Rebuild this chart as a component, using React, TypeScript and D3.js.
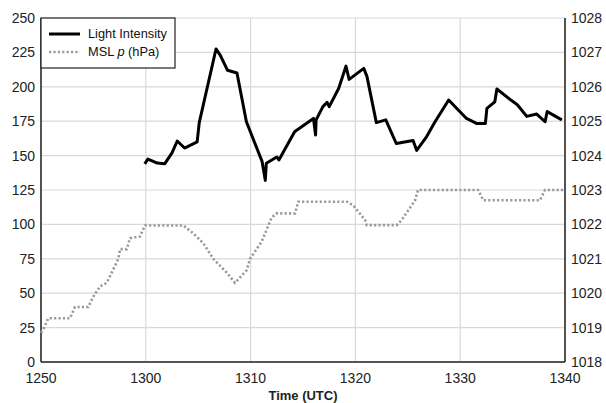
import React from 'react';
import * as d3 from 'd3';

// minutes after 12:50 UTC
const lightTime = [9.9, 10.2, 11.1, 11.8, 12.5, 13.0, 13.7, 14.9, 15.1, 16.7, 17.1, 17.8, 18.7, 19.6, 21.1, 21.4, 21.5, 22.5, 22.7, 24.2, 24.7, 26.0, 26.2, 26.25, 26.9, 27.3, 27.5, 28.4, 29.1, 29.4, 30.8, 31.1, 32.0, 32.9, 33.9, 35.5, 35.85, 36.8, 37.6, 38.9, 40.6, 41.6, 42.4, 42.55, 43.3, 43.5, 44.9, 45.45, 46.35, 47.3, 48.1, 48.3, 49.7];
const lightValue = [144, 147.5, 144.6, 144, 152, 160.6, 155.5, 160, 174, 227.5, 223, 212, 210, 174.6, 145.6, 132, 144.4, 149, 146.8, 167.4, 170, 177, 165, 176, 185.6, 188.7, 185.6, 198.8, 215, 205.4, 213.4, 207.6, 174, 176, 158.8, 161, 153.8, 163.8, 174.6, 190.4, 177, 173.3, 173.3, 184.3, 189, 198.4, 190, 187, 178.5, 180.2, 174.6, 182, 176];

const pressTime = [0, 0.22, 0.7, 2.77, 3.24, 4.51, 4.99, 5.63, 6.27, 6.75, 7.38, 7.54, 8.18, 8.49, 9.45, 9.92, 13.58, 14.53, 15.49, 16.44, 17.72, 18.51, 19.63, 19.94, 21.06, 22.01, 22.49, 24.24, 24.55, 29.17, 29.8, 30.92, 31.08, 33.94, 34.42, 35.69, 35.97, 41.7, 42.21, 47.61, 48.09, 50];
const pressValue = [1018.85, 1018.95, 1019.27, 1019.27, 1019.6, 1019.6, 1019.9, 1020.2, 1020.3, 1020.6, 1021.0, 1021.28, 1021.28, 1021.6, 1021.65, 1021.97, 1021.97, 1021.74, 1021.45, 1021.0, 1020.6, 1020.3, 1020.67, 1021.0, 1021.5, 1022.2, 1022.32, 1022.32, 1022.66, 1022.66, 1022.55, 1022.13, 1021.98, 1021.98, 1022.13, 1022.7, 1023.0, 1023.0, 1022.7, 1022.7, 1023.0, 1023.0];

const xTickLabels = ['1250', '1300', '1310', '1320', '1330', '1340'];
const leftTicks = d3.range(0, 251, 25);
const rightTicks = d3.range(1018, 1029, 1);

const App = () => {
    const width = 606;
    const height = 403;
    const margin = { top: 18, right: 41, bottom: 41, left: 41 };
    const font = 'Liberation Sans, Arial, sans-serif';

    const x = d3.scaleLinear().domain([0, 50]).range([margin.left, width - margin.right]);
    const yL = d3.scaleLinear().domain([0, 250]).range([height - margin.bottom, margin.top]);
    const yR = d3.scaleLinear().domain([1018, 1028]).range([height - margin.bottom, margin.top]);

    const lightLine = d3.line<number>().x((d, i) => x(lightTime[i])).y(d => yL(d));
    const pressLine = d3.line<number>().x((d, i) => x(pressTime[i])).y(d => yR(d));

    const x0 = x(0), x1 = x(50), yb = yL(0), yt = yL(250);

    return (
        <svg width={width} height={height} style={{ position: 'absolute', left: 0, top: 0 }}>
            <rect width={width} height={height} fill="white" />
            {leftTicks.map(t => (
                <line key={'h' + t} x1={x0} x2={x1} y1={yL(t)} y2={yL(t)} stroke="#d9d9d9" strokeWidth={1.2} />
            ))}
            {xTickLabels.map((l, i) => (
                <line key={'v' + l} x1={x(i * 10)} x2={x(i * 10)} y1={yt} y2={yb} stroke="#d9d9d9" strokeWidth={1.2} />
            ))}
            <line x1={x0} x2={x0} y1={yt} y2={yb} stroke="#222" strokeWidth={1.5} />
            <line x1={x1} x2={x1} y1={yt} y2={yb} stroke="#222" strokeWidth={1.5} />
            <line x1={x0} x2={x1} y1={yb} y2={yb} stroke="#222" strokeWidth={1.5} />

            <path d={pressLine(pressValue) || ''} fill="none" stroke="#9a9a9a" strokeWidth={2.6} strokeDasharray="2.2,2.2" />
            <path d={lightLine(lightValue) || ''} fill="none" stroke="#000" strokeWidth={3} strokeLinejoin="round" />

            {leftTicks.map(t => (
                <text key={'l' + t} x={x0 - 6} y={yL(t)} dy="0.35em" textAnchor="end" fontFamily={font} fontSize={14} fill="#222">{t}</text>
            ))}
            {rightTicks.map(t => (
                <text key={'r' + t} x={x1 + 6} y={yR(t)} dy="0.35em" textAnchor="start" fontFamily={font} fontSize={14} fill="#222">{t}</text>
            ))}
            {xTickLabels.map((l, i) => (
                <text key={'x' + l} x={x(i * 10)} y={yb + 21} textAnchor="middle" fontFamily={font} fontSize={14} fill="#222">{l}</text>
            ))}
            <text x={(x0 + x1) / 2} y={yb + 38} textAnchor="middle" fontFamily={font} fontSize={13} fontWeight="bold" fill="#222">Time (UTC)</text>

            <g>
                <rect x={x0} y={yt} width={134} height={50} fill="white" stroke="#222" strokeWidth={1.2} />
                <line x1={x0 + 8} x2={x0 + 39} y1={yt + 16} y2={yt + 16} stroke="#000" strokeWidth={3} />
                <line x1={x0 + 8} x2={x0 + 39} y1={yt + 34} y2={yt + 34} stroke="#9a9a9a" strokeWidth={2.6} strokeDasharray="2.2,2.2" />
                <text x={x0 + 47} y={yt + 16} dy="0.35em" fontFamily={font} fontSize={12.8} fill="#111">Light Intensity</text>
                <text x={x0 + 47} y={yt + 34} dy="0.35em" fontFamily={font} fontSize={12.8} fill="#111">MSL <tspan fontStyle="italic">p</tspan> (hPa)</text>
            </g>
        </svg>
    );
};

export default App;
